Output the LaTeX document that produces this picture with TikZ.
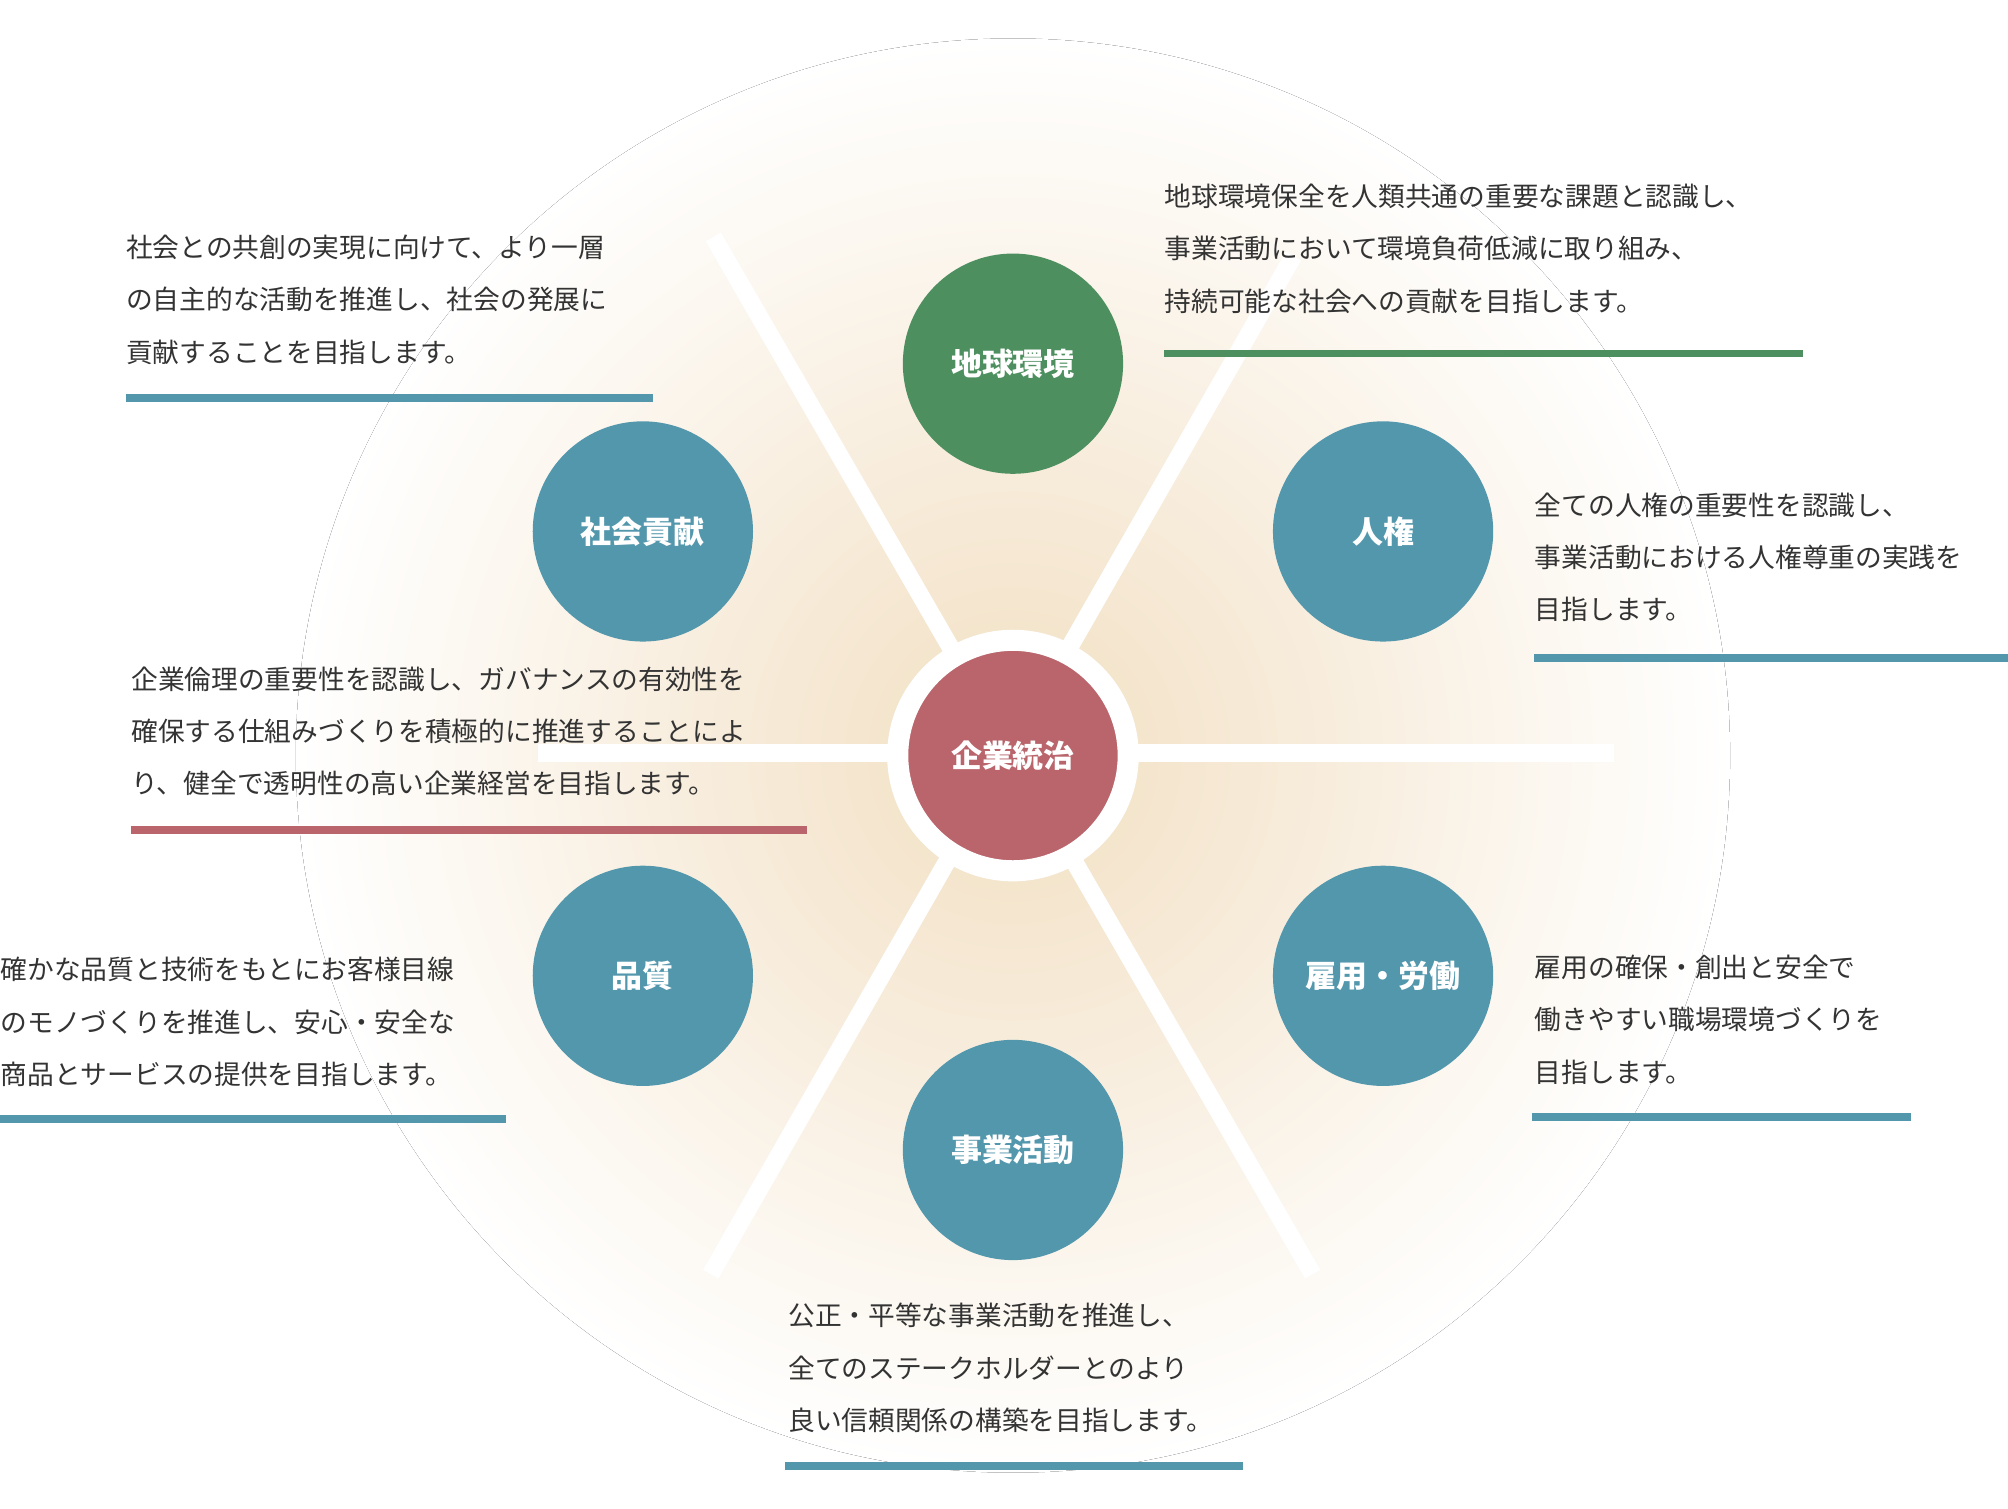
\documentclass[tikz,border=0pt]{standalone}
\usepackage{fontspec}
\newfontfamily\jp{Noto Sans CJK JP}
\usetikzlibrary{positioning}
\definecolor{glow}{HTML}{F2DFC2}
\definecolor{gov}{HTML}{B9656B}
\definecolor{eco}{HTML}{4D8F5F}
\definecolor{teal}{HTML}{5397AD}

\begin{document}
\begin{tikzpicture}[x=0.012806cm,y=-0.012806cm]
\tikzstyle{topic}=[circle,minimum size=172*0.012806cm,inner sep=0pt,text=white,
                   font=\jp\bfseries\fontsize{8.8pt}{10pt}\selectfont]
\tikzstyle{desc}=[anchor=north west,inner sep=0pt,align=left,text=black!80,
                  font=\jp\fontsize{7.6pt}{14.9pt}\selectfont]
\tikzstyle{rule}=[line width=2.2pt]

  \useasboundingbox (0,0) rectangle (1568,1178);
  \fill[inner color=glow,outer color=white,draw=none] (791,590) circle (560);

  % spokes
  \draw[white,line width=5pt] (557,185) -- (1025,995);
  \draw[white,line width=5pt] (1010,200) -- (555,995);
  \draw[white,line width=5pt] (420,588) -- (1260,588);

  \node[topic,fill=gov,draw=white,line width=6pt,minimum size=180*0.012806cm] (gov) at (791,590) {企業統治};
  \node[topic,fill=eco]  (eco) at (791,284) {地球環境};
  \node[topic,fill=teal] (soc) at (502,415) {社会貢献};
  \node[topic,fill=teal] (hum) at (1080,415) {人権};
  \node[topic,fill=teal] (qua) at (502,762) {品質};
  \node[topic,fill=teal] (emp) at (1080,762) {雇用・労働};
  \node[topic,fill=teal] (biz) at (791,898) {事業活動};

  \node[desc] (teco) at (909,143) {地球環境保全を人類共通の重要な課題と認識し、\\事業活動において環境負荷低減に取り組み、\\持続可能な社会への貢献を目指します。};
  \node[desc] (tsoc) at (98,183) {社会との共創の実現に向けて、より一層\\の自主的な活動を推進し、社会の発展に\\貢献することを目指します。};
  \node[desc] (thum) at (1198,384) {全ての人権の重要性を認識し、\\事業活動における人権尊重の実践を\\目指します。};
  \node[desc] (tgov) at (102,520) {企業倫理の重要性を認識し、ガバナンスの有効性を\\確保する仕組みづくりを積極的に推進することによ\\り、健全で透明性の高い企業経営を目指します。};
  \node[desc] (tqua) at (0,747) {確かな品質と技術をもとにお客様目線\\のモノづくりを推進し、安心・安全な\\商品とサービスの提供を目指します。};
  \node[desc] (temp) at (1198,745) {雇用の確保・創出と安全で\\働きやすい職場環境づくりを\\目指します。};
  \node[desc] (tbiz) at (615,1017) {公正・平等な事業活動を推進し、\\全てのステークホルダーとのより\\良い信頼関係の構築を目指します。};

  % underlines
  \coordinate (ue1) at (909,276);  \coordinate (ue2) at (1408,276);
  \coordinate (us1) at (98,311);   \coordinate (us2) at (510,311);
  \coordinate (uh1) at (1198,514); \coordinate (uh2) at (1568,514);
  \coordinate (ug1) at (102,648);  \coordinate (ug2) at (630,648);
  \coordinate (uq1) at (0,874);    \coordinate (uq2) at (395,874);
  \coordinate (um1) at (1196,872); \coordinate (um2) at (1492,872);
  \coordinate (ub1) at (613,1145); \coordinate (ub2) at (971,1145);
  \draw[rule,eco]  (ue1) -- (ue2);
  \draw[rule,teal] (us1) -- (us2);
  \draw[rule,teal] (uh1) -- (uh2);
  \draw[rule,gov]  (ug1) -- (ug2);
  \draw[rule,teal] (uq1) -- (uq2);
  \draw[rule,teal] (um1) -- (um2);
  \draw[rule,teal] (ub1) -- (ub2);
\end{tikzpicture}
\end{document}
